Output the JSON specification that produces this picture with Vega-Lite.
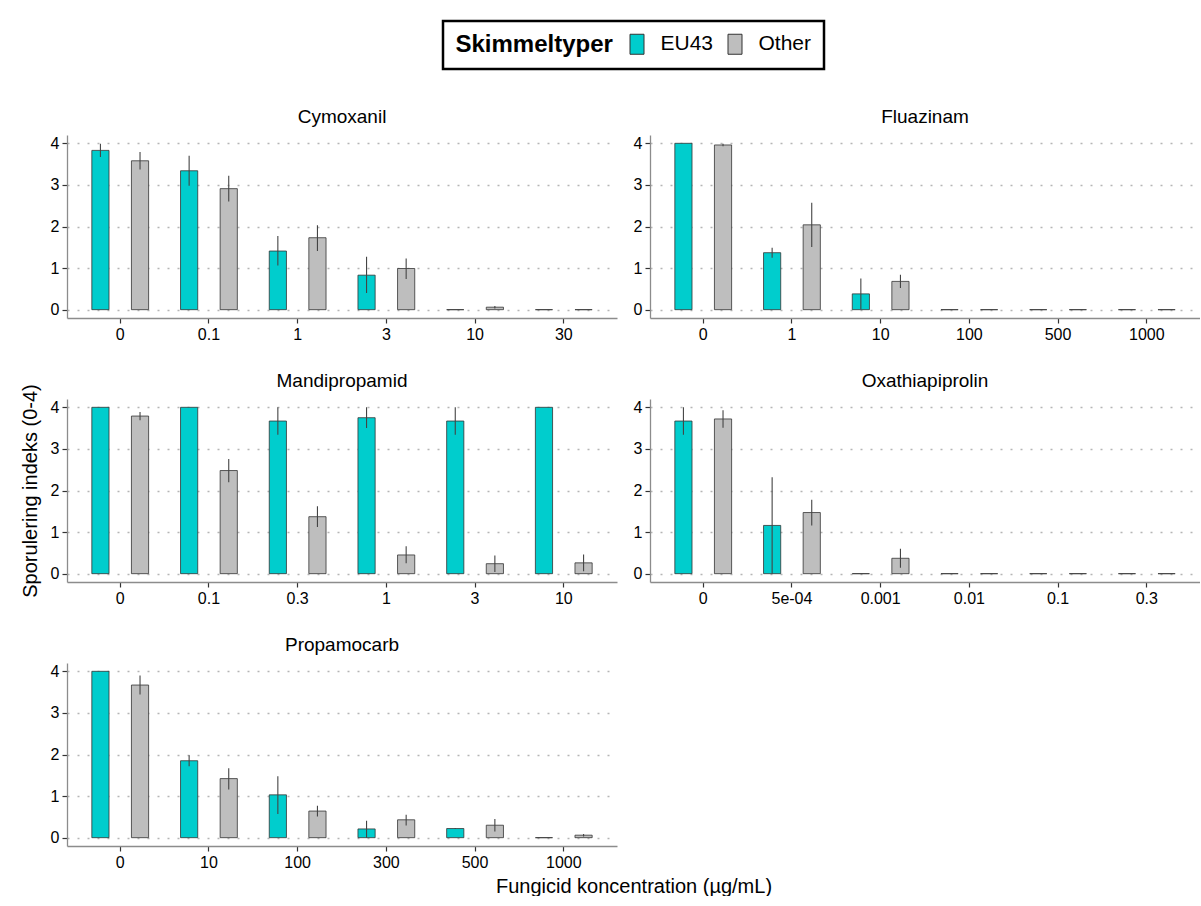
{
  "$schema": "https://vega.github.io/schema/vega-lite/v6.json",
  "background": "white",
  "padding": {"left": 20, "top": 19, "right": 0, "bottom": 0},
  "data": {"values": [
    {"f": "Cymoxanil", "c": "0", "t": "EU43", "v": 3.83, "lo": 3.67, "hi": 3.99},
    {"f": "Cymoxanil", "c": "0", "t": "Other", "v": 3.58, "lo": 3.37, "hi": 3.79},
    {"f": "Cymoxanil", "c": "0.1", "t": "EU43", "v": 3.34, "lo": 2.98, "hi": 3.70},
    {"f": "Cymoxanil", "c": "0.1", "t": "Other", "v": 2.91, "lo": 2.60, "hi": 3.22},
    {"f": "Cymoxanil", "c": "1", "t": "EU43", "v": 1.41, "lo": 1.06, "hi": 1.77},
    {"f": "Cymoxanil", "c": "1", "t": "Other", "v": 1.73, "lo": 1.41, "hi": 2.03},
    {"f": "Cymoxanil", "c": "3", "t": "EU43", "v": 0.83, "lo": 0.40, "hi": 1.27},
    {"f": "Cymoxanil", "c": "3", "t": "Other", "v": 0.99, "lo": 0.74, "hi": 1.23},
    {"f": "Cymoxanil", "c": "10", "t": "EU43", "v": 0, "lo": null, "hi": null},
    {"f": "Cymoxanil", "c": "10", "t": "Other", "v": 0.06, "lo": 0.03, "hi": 0.09},
    {"f": "Cymoxanil", "c": "30", "t": "EU43", "v": 0, "lo": null, "hi": null},
    {"f": "Cymoxanil", "c": "30", "t": "Other", "v": 0, "lo": null, "hi": null},
    {"f": "Fluazinam", "c": "0", "t": "EU43", "v": 4, "lo": null, "hi": null},
    {"f": "Fluazinam", "c": "0", "t": "Other", "v": 3.96, "lo": 3.93, "hi": 3.99},
    {"f": "Fluazinam", "c": "1", "t": "EU43", "v": 1.37, "lo": 1.25, "hi": 1.49},
    {"f": "Fluazinam", "c": "1", "t": "Other", "v": 2.04, "lo": 1.51, "hi": 2.57},
    {"f": "Fluazinam", "c": "10", "t": "EU43", "v": 0.38, "lo": 0.01, "hi": 0.75},
    {"f": "Fluazinam", "c": "10", "t": "Other", "v": 0.68, "lo": 0.52, "hi": 0.84},
    {"f": "Fluazinam", "c": "100", "t": "EU43", "v": 0, "lo": null, "hi": null},
    {"f": "Fluazinam", "c": "100", "t": "Other", "v": 0, "lo": null, "hi": null},
    {"f": "Fluazinam", "c": "500", "t": "EU43", "v": 0, "lo": null, "hi": null},
    {"f": "Fluazinam", "c": "500", "t": "Other", "v": 0, "lo": null, "hi": null},
    {"f": "Fluazinam", "c": "1000", "t": "EU43", "v": 0, "lo": null, "hi": null},
    {"f": "Fluazinam", "c": "1000", "t": "Other", "v": 0, "lo": null, "hi": null},
    {"f": "Mandipropamid", "c": "0", "t": "EU43", "v": 4, "lo": null, "hi": null},
    {"f": "Mandipropamid", "c": "0", "t": "Other", "v": 3.79, "lo": 3.69, "hi": 3.89},
    {"f": "Mandipropamid", "c": "0.1", "t": "EU43", "v": 4, "lo": null, "hi": null},
    {"f": "Mandipropamid", "c": "0.1", "t": "Other", "v": 2.48, "lo": 2.20, "hi": 2.76},
    {"f": "Mandipropamid", "c": "0.3", "t": "EU43", "v": 3.67, "lo": 3.34, "hi": 4.0},
    {"f": "Mandipropamid", "c": "0.3", "t": "Other", "v": 1.37, "lo": 1.12, "hi": 1.62},
    {"f": "Mandipropamid", "c": "1", "t": "EU43", "v": 3.75, "lo": 3.50, "hi": 4.0},
    {"f": "Mandipropamid", "c": "1", "t": "Other", "v": 0.45, "lo": 0.25, "hi": 0.66},
    {"f": "Mandipropamid", "c": "3", "t": "EU43", "v": 3.67, "lo": 3.34, "hi": 4.0},
    {"f": "Mandipropamid", "c": "3", "t": "Other", "v": 0.24, "lo": 0.04, "hi": 0.44},
    {"f": "Mandipropamid", "c": "10", "t": "EU43", "v": 4, "lo": null, "hi": null},
    {"f": "Mandipropamid", "c": "10", "t": "Other", "v": 0.26, "lo": 0.06, "hi": 0.46},
    {"f": "Oxathiapiprolin", "c": "0", "t": "EU43", "v": 3.67, "lo": 3.34, "hi": 4.0},
    {"f": "Oxathiapiprolin", "c": "0", "t": "Other", "v": 3.72, "lo": 3.51, "hi": 3.93},
    {"f": "Oxathiapiprolin", "c": "5e-04", "t": "EU43", "v": 1.16, "lo": 0, "hi": 2.32},
    {"f": "Oxathiapiprolin", "c": "5e-04", "t": "Other", "v": 1.47, "lo": 1.16, "hi": 1.78},
    {"f": "Oxathiapiprolin", "c": "0.001", "t": "EU43", "v": 0, "lo": null, "hi": null},
    {"f": "Oxathiapiprolin", "c": "0.001", "t": "Other", "v": 0.37, "lo": 0.14, "hi": 0.60},
    {"f": "Oxathiapiprolin", "c": "0.01", "t": "EU43", "v": 0, "lo": null, "hi": null},
    {"f": "Oxathiapiprolin", "c": "0.01", "t": "Other", "v": 0, "lo": null, "hi": null},
    {"f": "Oxathiapiprolin", "c": "0.1", "t": "EU43", "v": 0, "lo": null, "hi": null},
    {"f": "Oxathiapiprolin", "c": "0.1", "t": "Other", "v": 0, "lo": null, "hi": null},
    {"f": "Oxathiapiprolin", "c": "0.3", "t": "EU43", "v": 0, "lo": null, "hi": null},
    {"f": "Oxathiapiprolin", "c": "0.3", "t": "Other", "v": 0, "lo": null, "hi": null},
    {"f": "Propamocarb", "c": "0", "t": "EU43", "v": 4, "lo": null, "hi": null},
    {"f": "Propamocarb", "c": "0", "t": "Other", "v": 3.67, "lo": 3.44, "hi": 3.90},
    {"f": "Propamocarb", "c": "10", "t": "EU43", "v": 1.85, "lo": 1.72, "hi": 1.98},
    {"f": "Propamocarb", "c": "10", "t": "Other", "v": 1.42, "lo": 1.16, "hi": 1.67},
    {"f": "Propamocarb", "c": "100", "t": "EU43", "v": 1.03, "lo": 0.57, "hi": 1.48},
    {"f": "Propamocarb", "c": "100", "t": "Other", "v": 0.64, "lo": 0.51, "hi": 0.77},
    {"f": "Propamocarb", "c": "300", "t": "EU43", "v": 0.21, "lo": 0, "hi": 0.41},
    {"f": "Propamocarb", "c": "300", "t": "Other", "v": 0.43, "lo": 0.29, "hi": 0.55},
    {"f": "Propamocarb", "c": "500", "t": "EU43", "v": 0.22, "lo": 0.21, "hi": 0.23},
    {"f": "Propamocarb", "c": "500", "t": "Other", "v": 0.30, "lo": 0.15, "hi": 0.45},
    {"f": "Propamocarb", "c": "1000", "t": "EU43", "v": 0, "lo": null, "hi": null},
    {"f": "Propamocarb", "c": "1000", "t": "Other", "v": 0.06, "lo": 0.03, "hi": 0.09}
  ]},
  "columns": 2,
  "bounds": "flush",
  "spacing": {"row": 81, "column": 33},
  "resolve": {"scale": {"x": "independent"}, "axis": {"x": "independent", "y": "independent"}},
  "concat": [
    {
      "title": "Cymoxanil", "width": 550, "height": 183,
      "transform": [{"filter": "datum.f === 'Cymoxanil'"}],
      "encoding": {
        "x": {"field": "c", "type": "nominal", "sort": null, "scale": {"paddingInner": 0, "paddingOuter": 0.1}, "axis": {"title": null}},
        "xOffset": {"field": "t", "type": "nominal", "scale": {"paddingInner": 0.566, "paddingOuter": 0.403}}
      },
      "layer": [
        {"mark": {"type": "bar", "stroke": "#333333", "strokeWidth": 0.8},
         "encoding": {
           "y": {"field": "v", "type": "quantitative", "stack": null, "scale": {"domain": [-0.2, 4.2], "nice": false}, "axis": {"title": null}},
           "y2": {"datum": 0},
           "color": {"field": "t", "type": "nominal", "scale": {"domain": ["EU43", "Other"], "range": ["#00CDCD", "#BEBEBE"]},
             "legend": {"title": "Skimmeltyper", "orient": "none", "legendX": 376, "legendY": -114, "direction": "horizontal", "titleOrient": "left"}}
         }},
        {"mark": {"type": "rule", "color": "#444444", "strokeWidth": 1.1},
         "encoding": {"y": {"field": "lo", "type": "quantitative"}, "y2": {"field": "hi"}}}
      ]
    },
    {
      "title": "Fluazinam", "width": 550, "height": 183,
      "transform": [{"filter": "datum.f === 'Fluazinam'"}],
      "encoding": {
        "x": {"field": "c", "type": "nominal", "sort": null, "scale": {"paddingInner": 0, "paddingOuter": 0.1}, "axis": {"title": null}},
        "xOffset": {"field": "t", "type": "nominal", "scale": {"paddingInner": 0.566, "paddingOuter": 0.403}}
      },
      "layer": [
        {"mark": {"type": "bar", "stroke": "#333333", "strokeWidth": 0.8},
         "encoding": {
           "y": {"field": "v", "type": "quantitative", "stack": null, "scale": {"domain": [-0.2, 4.2], "nice": false}, "axis": {"title": null}},
           "y2": {"datum": 0},
           "color": {"field": "t", "type": "nominal"}
         }},
        {"mark": {"type": "rule", "color": "#444444", "strokeWidth": 1.1},
         "encoding": {"y": {"field": "lo", "type": "quantitative"}, "y2": {"field": "hi"}}}
      ]
    },
    {
      "title": {"text": "Mandipropamid", "dy": 15}, "width": 550, "height": 183,
      "transform": [{"filter": "datum.f === 'Mandipropamid'"}],
      "encoding": {
        "x": {"field": "c", "type": "nominal", "sort": null, "scale": {"paddingInner": 0, "paddingOuter": 0.1}, "axis": {"title": null}},
        "xOffset": {"field": "t", "type": "nominal", "scale": {"paddingInner": 0.566, "paddingOuter": 0.403}}
      },
      "layer": [
        {"mark": {"type": "bar", "stroke": "#333333", "strokeWidth": 0.8},
         "encoding": {
           "y": {"field": "v", "type": "quantitative", "stack": null, "scale": {"domain": [-0.2, 4.2], "nice": false}, "axis": {"title": "Sporulering indeks (0-4)"}},
           "y2": {"datum": 0},
           "color": {"field": "t", "type": "nominal"}
         }},
        {"mark": {"type": "rule", "color": "#444444", "strokeWidth": 1.1},
         "encoding": {"y": {"field": "lo", "type": "quantitative"}, "y2": {"field": "hi"}}}
      ]
    },
    {
      "title": "Oxathiapiprolin", "width": 550, "height": 183,
      "transform": [{"filter": "datum.f === 'Oxathiapiprolin'"}],
      "encoding": {
        "x": {"field": "c", "type": "nominal", "sort": null, "scale": {"paddingInner": 0, "paddingOuter": 0.1}, "axis": {"title": null}},
        "xOffset": {"field": "t", "type": "nominal", "scale": {"paddingInner": 0.566, "paddingOuter": 0.403}}
      },
      "layer": [
        {"mark": {"type": "bar", "stroke": "#333333", "strokeWidth": 0.8},
         "encoding": {
           "y": {"field": "v", "type": "quantitative", "stack": null, "scale": {"domain": [-0.2, 4.2], "nice": false}, "axis": {"title": null}},
           "y2": {"datum": 0},
           "color": {"field": "t", "type": "nominal"}
         }},
        {"mark": {"type": "rule", "color": "#444444", "strokeWidth": 1.1},
         "encoding": {"y": {"field": "lo", "type": "quantitative"}, "y2": {"field": "hi"}}}
      ]
    },
    {
      "title": "Propamocarb", "width": 550, "height": 183,
      "transform": [{"filter": "datum.f === 'Propamocarb'"}],
      "encoding": {
        "x": {"field": "c", "type": "nominal", "sort": null, "scale": {"paddingInner": 0, "paddingOuter": 0.1}, "axis": {"title": "Fungicid koncentration (µg/mL)", "titleX": 566.5, "titleAnchor": null, "titleAlign": "center", "titlePadding": 6}},
        "xOffset": {"field": "t", "type": "nominal", "scale": {"paddingInner": 0.566, "paddingOuter": 0.403}}
      },
      "layer": [
        {"mark": {"type": "bar", "stroke": "#333333", "strokeWidth": 0.8},
         "encoding": {
           "y": {"field": "v", "type": "quantitative", "stack": null, "scale": {"domain": [-0.2, 4.2], "nice": false}, "axis": {"title": null}},
           "y2": {"datum": 0},
           "color": {"field": "t", "type": "nominal"}
         }},
        {"mark": {"type": "rule", "color": "#444444", "strokeWidth": 1.1},
         "encoding": {"y": {"field": "lo", "type": "quantitative"}, "y2": {"field": "hi"}}}
      ]
    }
  ],
  "config": {
    "font": "Liberation Sans",
    "view": {"stroke": null},
    "title": {"fontSize": 19, "fontWeight": "normal", "color": "black", "anchor": "middle", "frame": "group", "offset": 8},
    "axis": {"labelFont": "Liberation Sans", "titleFont": "Liberation Sans", "labelFontSize": 16, "labelColor": "black", "titleFontSize": 20, "titleFontWeight": "normal", "titleColor": "black", "tickColor": "#333333", "tickSize": 5, "tickWidth": 1.2, "domainColor": "#8c8c8c", "domainWidth": 1.3, "labelPadding": 3},
    "axisX": {"grid": false, "labelAngle": 0},
    "axisY": {"grid": true, "gridDash": [2, 8], "gridColor": "#b5b5b5", "gridWidth": 1.3, "values": [0, 1, 2, 3, 4], "titlePadding": 10},
    "legend": {"titleFont": "Liberation Sans", "labelFont": "Liberation Sans", "titleFontSize": 24, "titleFontWeight": "bold", "titleColor": "black", "titlePadding": 13, "labelFontSize": 21, "labelColor": "black", "labelOffset": 13, "columnPadding": 11, "symbolType": "M-0.7,-1L0.7,-1L0.7,1L-0.7,1Z", "symbolSize": 400, "symbolStrokeColor": "#333333", "symbolStrokeWidth": 1, "symbolOpacity": 1, "padding": 12.5, "strokeColor": "black", "strokeWidth": 2.5}
  }
}
